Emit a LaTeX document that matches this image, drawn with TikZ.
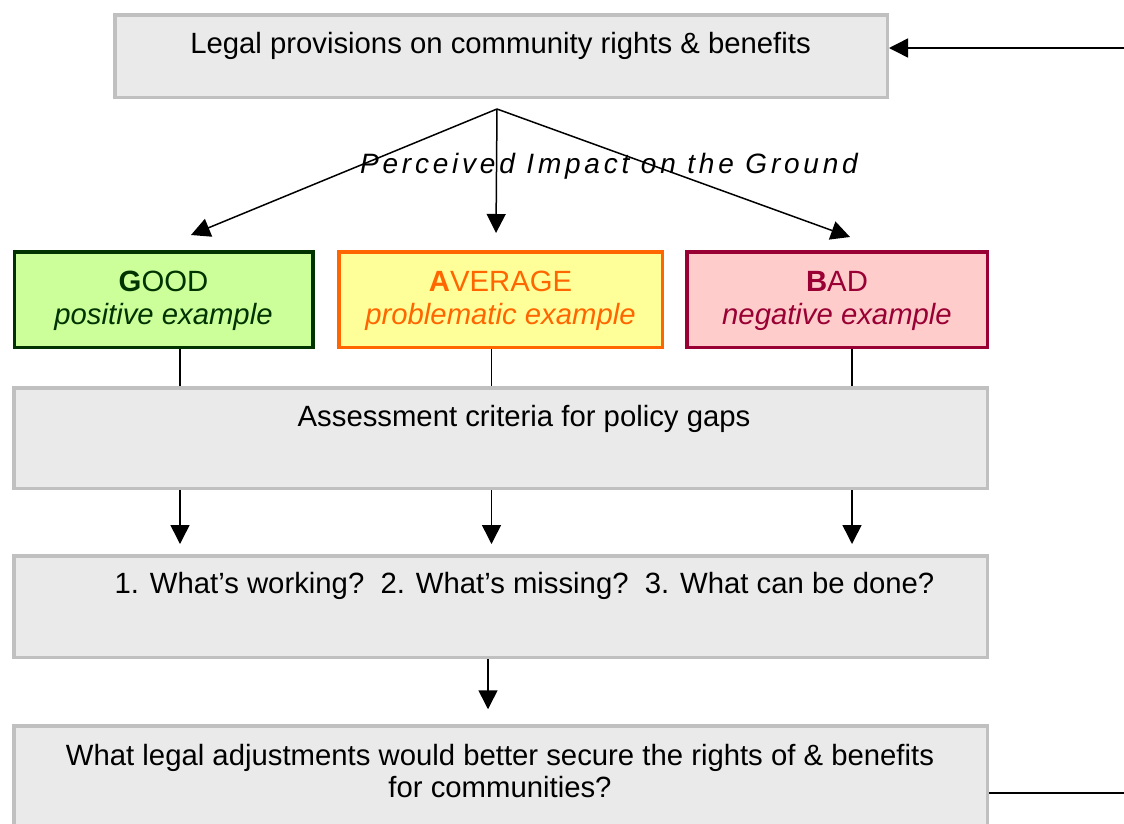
\documentclass[tikz,border=0pt]{standalone}
\usepackage{fontspec}
\setmainfont{Liberation Sans}
\usetikzlibrary{arrows.meta}
\definecolor{panelfill}{HTML}{EAEAEA}
\definecolor{panelline}{HTML}{C0C0C0}
\definecolor{goodline}{HTML}{003300}
\definecolor{goodfill}{HTML}{CCFF99}
\definecolor{avgline}{HTML}{FF6600}
\definecolor{avgfill}{HTML}{FFFF99}
\definecolor{badline}{HTML}{990033}
\definecolor{badfill}{HTML}{FFCCCC}
\begin{document}
\begin{tikzpicture}[x=1pt,y=-1pt,
  panel/.style={draw=panelline, fill=panelfill, line width=3.5pt, inner sep=0pt},
  rating/.style 2 args={draw=#1, fill=#2, line width=3.5pt, inner sep=0pt},
  txt/.style={anchor=base, inner sep=0pt, font=\fontsize{29.3}{32}\selectfont},
  link/.style={line width=1.5pt, draw=black},
  arrow/.style={link, -{Triangle[length=19pt,width=19pt]}},
]
\useasboundingbox (0,0) rectangle (1124,823);

% boxes
\node[panel, minimum width=772.5pt, minimum height=82.5pt] (legal) at (501,56) {};
\node[rating={goodline}{goodfill}, minimum width=298.5pt, minimum height=95.5pt] (good) at (163.5,299.5) {};
\node[rating={avgline}{avgfill}, minimum width=323.5pt, minimum height=95.5pt] (avg) at (500.5,299.5) {};
\node[rating={badline}{badfill}, minimum width=300.5pt, minimum height=95.5pt] (bad) at (837,299.5) {};
\node[panel, minimum width=973.5pt, minimum height=100.5pt] (assess) at (500.5,438) {};
\node[panel, minimum width=973.5pt, minimum height=101.5pt] (questions) at (500.5,606.5) {};
\node[panel, minimum width=973.5pt, minimum height=130pt] (adjust) at (500.5,791) {};

% texts
\node[txt] (legaltext) at (500.5,53) {Legal provisions on community rights \& benefits};
\node[txt, font=\fontsize{28}{32}\selectfont\itshape\addfontfeature{LetterSpace=13.5}] (impact) at (609,173) {Perceived Impact on the Ground};
\node[txt, text=goodline] (goodtitle) at (163.5,291) {\textbf{G}OOD};
\node[txt, text=goodline, font=\fontsize{29.3}{32}\selectfont\itshape] (goodsub) at (163.5,324) {positive example};
\node[txt, text=avgline] (avgtitle) at (500.5,291) {\textbf{A}VERAGE};
\node[txt, text=avgline, font=\fontsize{29.3}{32}\selectfont\itshape] (avgsub) at (500.5,324) {problematic example};
\node[txt, text=badline] (badtitle) at (837,291) {\textbf{B}AD};
\node[txt, text=badline, font=\fontsize{29.3}{32}\selectfont\itshape] (badsub) at (837,324) {negative example};
\node[txt] (assesstext) at (524,426) {Assessment criteria for policy gaps};
\node[txt] (questext) at (524.5,593) {1. What’s working?\ \ 2. What’s missing?\ \ 3. What can be done?};
\node[txt, anchor=north, align=center] (adjusttext) at (500,744) {What legal adjustments would better secure the rights of \& benefits\\for communities?};

% connector anchor points
\coordinate (hub) at (497,109);
\coordinate (tipgood) at (191,235);
\coordinate (tipavg) at (496,233);
\coordinate (tipbad) at (850,237);
\coordinate (colgood) at (180,0);
\coordinate (colavg) at (491.5,0);
\coordinate (colbad) at (852,0);
\coordinate (colq) at (488,0);
\coordinate (loopin) at (1124,48);
\coordinate (loopout) at (1124,793);

% feedback into the top box
\draw[arrow] (loopin) -- (loopin -| legal.east);
% fan out to the three ratings
\draw[arrow] (hub) -- (tipgood);
\draw[arrow] (hub) -- (tipavg);
\draw[arrow] (hub) -- (tipbad);
% ratings feed the assessment
\draw[link] (good.south -| colgood) -- (assess.north -| colgood);
\draw[link] (avg.south -| colavg) -- (assess.north -| colavg);
\draw[link] (bad.south -| colbad) -- (assess.north -| colbad);
% assessment to questions
\draw[arrow, shorten >=10pt] (assess.south -| colgood) -- (questions.north -| colgood);
\draw[arrow, shorten >=10pt] (assess.south -| colavg) -- (questions.north -| colavg);
\draw[arrow, shorten >=10pt] (assess.south -| colbad) -- (questions.north -| colbad);
% questions to legal adjustments
\draw[arrow, shorten >=15pt] (questions.south -| colq) -- (adjust.north -| colq);
% loop back out on the right
\draw[link] (adjust.east |- loopout) -- (loopout);
\end{tikzpicture}
\end{document}
